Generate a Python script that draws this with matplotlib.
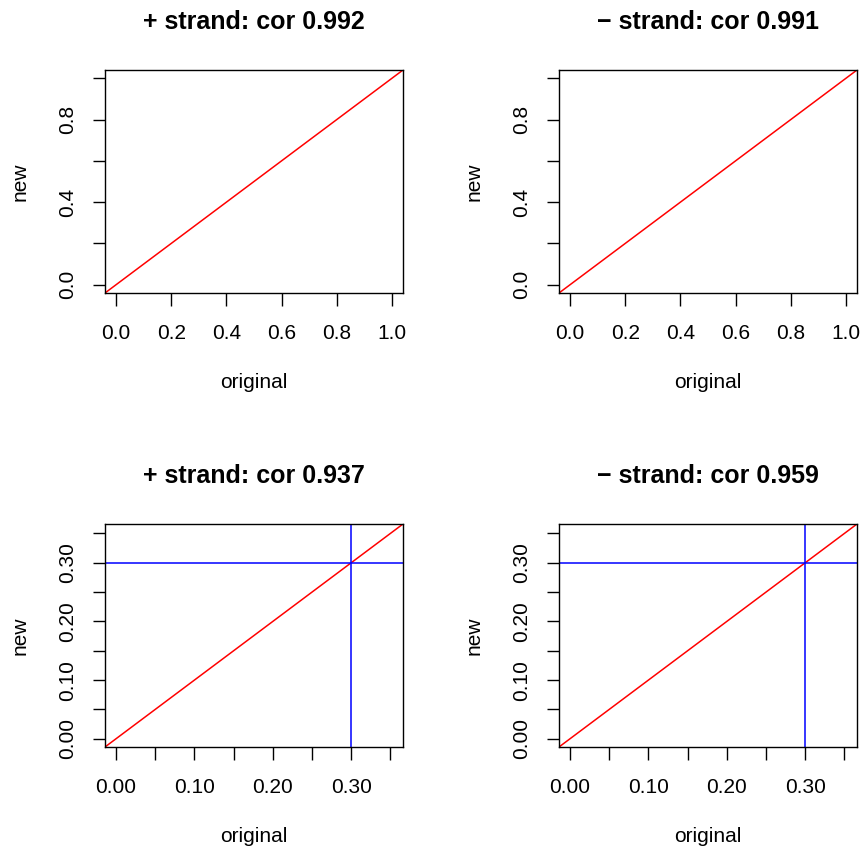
import numpy as np
import matplotlib
matplotlib.use("Agg")
import matplotlib.pyplot as plt

plt.rcParams['font.family'] = ['Liberation Sans', 'DejaVu Sans']

titles = ["+ strand: cor 0.992", "\u2212 strand: cor 0.991",
          "+ strand: cor 0.937", "\u2212 strand: cor 0.959"]

# top row: full range, bottom row: zoomed with cutoff lines
full_range = [0.0, 1.0]
zoom_range = [0.0, 0.352]
cutoff = 0.3

full_ticks = [0.0, 0.2, 0.4, 0.6, 0.8, 1.0]
full_xlabels = ["0.0", "0.2", "0.4", "0.6", "0.8", "1.0"]
full_ylabels = ["0.0", "", "0.4", "", "0.8", ""]
zoom_ticks = [0.0, 0.05, 0.10, 0.15, 0.20, 0.25, 0.30, 0.35]
zoom_labels = ["0.00", "", "0.10", "", "0.20", "", "0.30", ""]

W, H = 863, 849
fig = plt.figure(figsize=(W / 100, H / 100), dpi=100)

boxes = [(105, 70), (559, 70), (105, 524), (559, 524)]
bw, bh = 298, 223


def r_lims(rng):
    # R pads the data range by 4% on each side
    d = (rng[1] - rng[0]) * 0.04
    return rng[0] - d, rng[1] + d


for i, (x0, y0) in enumerate(boxes):
    ax = fig.add_axes([x0 / W, (H - y0 - bh) / H, bw / W, bh / H])
    if i < 2:
        rng = full_range
        xt, xl, yt, yl = full_ticks, full_xlabels, full_ticks, full_ylabels
    else:
        rng = zoom_range
        xt, xl, yt, yl = zoom_ticks, zoom_labels, zoom_ticks, zoom_labels
    lo, hi = r_lims(rng)
    ax.set_xlim(lo, hi)
    ax.set_ylim(lo, hi)
    ax.plot([lo, hi], [lo, hi], color="red", lw=1.1)
    if i >= 2:
        ax.axhline(cutoff, color="blue", lw=1.1)
        ax.axvline(cutoff, color="blue", lw=1.1)
    ax.set_xticks(xt)
    ax.set_xticklabels(xl)
    ax.set_yticks(yt)
    ax.set_yticklabels(yl, rotation=90, va="center")
    ax.tick_params(direction="out", length=9, width=1.0, labelsize=15,
                   colors="black")
    ax.tick_params(axis="x", pad=13)
    ax.tick_params(axis="y", pad=11)
    for s in ax.spines.values():
        s.set_linewidth(1.0)
    ax.set_xlabel("original", fontsize=15, va="center")
    ax.xaxis.set_label_coords(0.5, -89 / bh)
    ax.set_ylabel("new", fontsize=15, va="center")
    ax.yaxis.set_label_coords(-85 / bw, 0.5)
    ax.text(0.5, 1 + 48 / bh, titles[i], transform=ax.transAxes,
            ha="center", va="center", fontsize=18, fontweight="bold")

fig.savefig("out.png", dpi=100)
